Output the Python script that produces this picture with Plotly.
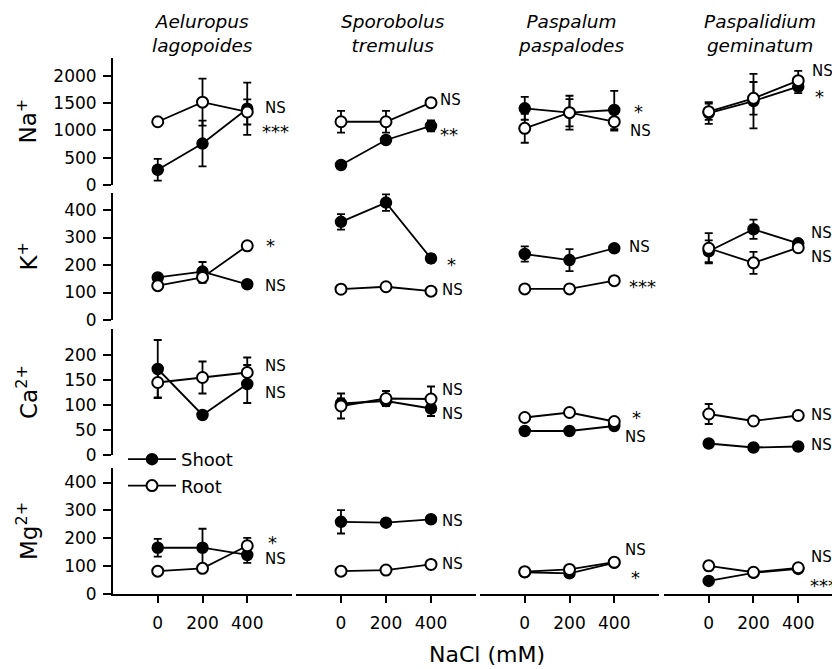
import plotly.graph_objects as go

W, H = 832, 679
FONT = "DejaVu Sans"

nacl = [0, 200, 400]
species = ["Aeluropus<br>lagopoides", "Sporobolus<br>tremulus",
           "Paspalum<br>paspalodes", "Paspalidium<br>geminatum"]
ions = ["Na<sup>+</sup>", "K<sup>+</sup>", "Ca<sup>2+</sup>", "Mg<sup>2+</sup>"]

# values [ion][species]
shoot = [
    [[280, 760, 1400], [367, 826, 1083], [1407, 1327, 1376], [1320, 1540, 1804]],
    [[155, 176, 130], [357, 427, 224], [240, 218, 261], [250, 330, 279]],
    [[172, 80, 142], [103, 108, 93], [48, 48, 58], [23, 15, 17]],
    [[166, 166, 140], [259, 256, 268], [78, 74, 112], [47, 76, 90]],
]
shoot_err = [
    [[200, 420, 480], [0, 0, 100], [210, 310, 350], [200, 500, 120]],
    [[0, 35, 0], [28, 30, 15], [28, 40, 0], [40, 35, 0]],
    [[58, 0, 38], [10, 8, 15], [0, 0, 0], [0, 0, 0]],
    [[32, 68, 28], [42, 0, 0], [0, 0, 0], [0, 0, 0]],
]
root = [
    [[1160, 1520, 1340], [1160, 1160, 1510], [1040, 1327, 1161], [1345, 1590, 1914]],
    [[125, 155, 270], [112, 121, 105], [113, 113, 143], [261, 208, 263]],
    [[145, 155, 165], [98, 113, 112], [75, 85, 67], [82, 68, 79]],
    [[82, 92, 173], [82, 86, 106], [80, 88, 114], [101, 78, 94]],
]
root_err = [
    [[0, 430, 230], [200, 200, 0], [265, 250, 165], [150, 300, 180]],
    [[0, 20, 0], [0, 0, 0], [0, 0, 0], [55, 40, 0]],
    [[30, 32, 30], [25, 15, 25], [0, 0, 0], [20, 0, 0]],
    [[0, 0, 28], [0, 0, 10], [0, 0, 0], [15, 0, 0]],
]
# significance labels: (text, x, y) per panel
sig = [
    [[("NS", 470, 1413), ("***", 455, 996)], [("NS", 433, 1560), ("**", 433, 936)],
     [("*", 478, 1376), ("NS", 461, 991)], [("NS", 451, 2097), ("*", 468, 1633)]],
    [[("*", 477, 273), ("NS", 470, 125)], [("*", 464, 204), ("NS", 438, 109)],
     [("NS", 458, 264), ("***", 458, 125)], [("NS", 447, 315), ("NS", 447, 228)]],
    [[("NS", 470, 178), ("NS", 470, 125)], [("NS", 438, 130), ("NS", 438, 82)],
     [("*", 470, 77), ("NS", 440, 37)], [("NS", 449, 81), ("NS", 449, 20)]],
    [[("*", 485, 190), ("NS", 470, 126)], [("NS", 438, 263), ("NS", 438, 106)],
     [("NS", 440, 158), ("*", 466, 63)], [("NS", 449, 134), ("***", 444, 33)]],
]
y_ticks = [[0, 500, 1000, 1500, 2000], [0, 100, 200, 300, 400],
           [0, 50, 100, 150, 200], [0, 100, 200, 300, 400]]
y_ranges = [[0, 2330], [0, 462], [0, 252], [0, 452]]
x_ranges = [[-200, 600], [-200, 600], [-200, 600], [-200, 551]]

# layout positions measured on the 832 x 669 reference
REF_H = 669
col_px = [(113, 292), (296, 476), (480, 659), (664, 832)]
row_px = [(58, 185), (193, 320), (329, 455), (468, 594)]
title_x_px = [202, 393, 571, 760]


def px(p):
    return p / W


def py(p):
    return 1 - p / REF_H


def xdom(p):
    return [px(p[0]), min(1.0, px(p[1]))]


def ydom(p):
    return [py(p[1]), py(p[0])]


fig = go.Figure()
layout = {}
annotations = []
for r in range(4):
    for c in range(4):
        k = r * 4 + c + 1
        xa = "x" if k == 1 else f"x{k}"
        ya = "y" if k == 1 else f"y{k}"
        xkey = "xaxis" if k == 1 else f"xaxis{k}"
        ykey = "yaxis" if k == 1 else f"yaxis{k}"
        show_x = (r == 3)
        show_y = (c == 0)
        layout[xkey] = dict(
            domain=xdom(col_px[c]), range=x_ranges[c], anchor=ya,
            visible=show_x, showline=True, linecolor="black", linewidth=2,
            ticks="outside", ticklen=7, tickwidth=2, tickcolor="black",
            tickvals=nacl, ticktext=[str(v) for v in nacl],
            showgrid=False, zeroline=False, ticklabelstandoff=6,
            tickfont=dict(family=FONT, size=17, color="black"),
        )
        layout[ykey] = dict(
            domain=ydom(row_px[r]), range=y_ranges[r], anchor=xa,
            visible=show_y, showline=True, linecolor="black", linewidth=2,
            ticks="outside", ticklen=8, tickwidth=2, tickcolor="black",
            tickvals=y_ticks[r], showgrid=False, zeroline=False,
            ticklabelstandoff=3,
            tickfont=dict(family=FONT, size=17, color="black"),
        )
        fig.add_trace(go.Scatter(
            x=nacl, y=shoot[r][c], xaxis=xa, yaxis=ya, mode="lines+markers",
            name="Shoot", legendgroup="Shoot", showlegend=(k == 1),
            line=dict(color="black", width=1.8),
            marker=dict(size=11, color="black", line=dict(color="black", width=1.5)),
            error_y=dict(type="data", array=shoot_err[r][c], visible=True,
                         color="black", thickness=1.8, width=4),
            cliponaxis=False,
        ))
        fig.add_trace(go.Scatter(
            x=nacl, y=root[r][c], xaxis=xa, yaxis=ya, mode="lines+markers",
            name="Root", legendgroup="Root", showlegend=(k == 1),
            line=dict(color="black", width=1.8),
            marker=dict(size=11, color="white", line=dict(color="black", width=2)),
            error_y=dict(type="data", array=root_err[r][c], visible=True,
                         color="black", thickness=1.8, width=4),
            cliponaxis=False,
        ))
        for txt, lx, ly in sig[r][c]:
            star = "*" in txt
            annotations.append(dict(
                x=lx, y=ly, xref=xa, yref=ya, text=txt, showarrow=False,
                xanchor="left", yanchor="middle",
                yshift=-1 if star else 0,
                font=dict(family=FONT, size=18 if star else 15, color="black"),
            ))

for r in range(4):
    cy = (row_px[r][0] + row_px[r][1]) / 2
    annotations.append(dict(
        x=px(27), y=py(cy), xref="paper", yref="paper", text=ions[r],
        textangle=-90, showarrow=False, xanchor="center", yanchor="middle",
        font=dict(family=FONT, size=23, color="black"),
    ))
for c in range(4):
    annotations.append(dict(
        x=px(title_x_px[c]), y=py(33), xref="paper", yref="paper",
        text=f"<i>{species[c]}</i>", showarrow=False,
        xanchor="center", yanchor="middle",
        font=dict(family=FONT, size=18.5, color="black"),
    ))
annotations.append(dict(
    x=px(487), y=py(654), xref="paper", yref="paper", text="NaCl (mM)",
    showarrow=False, xanchor="center", yanchor="middle",
    font=dict(family=FONT, size=22, color="black"),
))

fig.update_layout(
    width=W, height=H, margin=dict(l=0, r=0, t=0, b=0),
    paper_bgcolor="white", plot_bgcolor="rgba(0,0,0,0)",
    showlegend=True,
    legend=dict(x=px(123), y=py(441), xanchor="left", yanchor="top",
                bgcolor="rgba(0,0,0,0)", itemwidth=48,
                font=dict(family=FONT, size=18, color="black"),
                tracegroupgap=0),
    annotations=annotations,
    **layout,
)
fig.write_html(
    "out.html",
    config={"displayModeBar": False},
    post_script="document.body.style.margin='0';document.body.style.padding='0';",
)
